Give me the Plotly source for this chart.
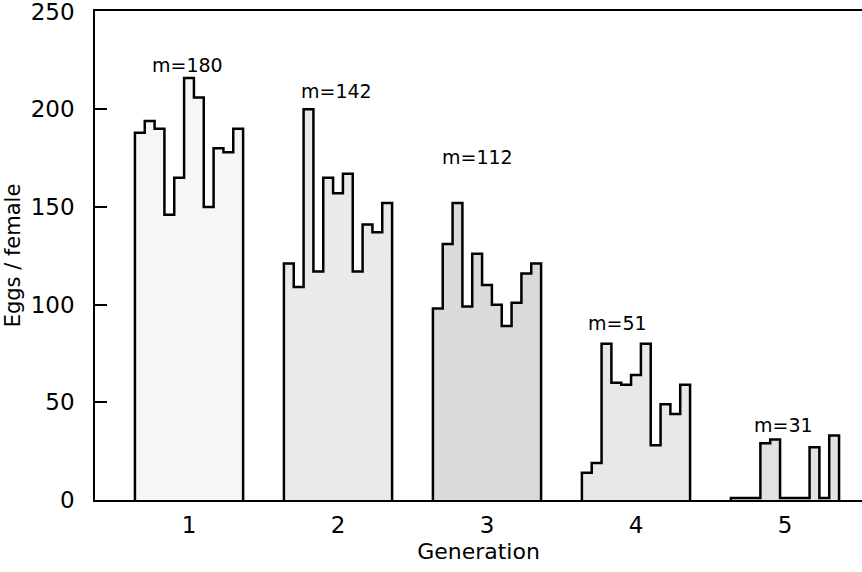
import numpy as np
import plotly.graph_objects as go

generations = [1, 2, 3, 4, 5]
tick_labels = ["1", "2", "3", "4", "5"]

gen1 = [188, 194, 190, 146, 165, 216, 206, 150, 180, 178, 190]
gen2 = [121, 109, 200, 117, 165, 157, 167, 117, 141, 137, 152]
gen3 = [98, 131, 152, 99, 126, 110, 100, 89, 101, 116, 121]
gen4 = [14, 19, 80, 60, 59, 64, 80, 28, 49, 44, 59]
gen5 = [1, 1, 1, 29, 31, 1, 1, 1, 27, 1, 33]
series = [gen1, gen2, gen3, gen4, gen5]

mean_labels = ["m=180", "m=142", "m=112", "m=51", "m=31"]
label_x = [0.987, 1.987, 2.933, 3.879, 4.987]
label_y = [222.9, 209.1, 175.4, 90.5, 38.3]

fills = ["#f6f6f6", "#eaeaea", "#dadada", "#e8e8e8", "#e2e2e2"]
bin_w = 0.066

fig = go.Figure()
for g, vals, col in zip(generations, series, fills):
    n = len(vals)
    edges = g + (np.arange(n + 1) - n / 2) * bin_w
    xs = [edges[0]]
    ys = [0]
    for i, v in enumerate(vals):
        xs += [edges[i], edges[i + 1]]
        ys += [v, v]
    xs.append(edges[-1])
    ys.append(0)
    fig.add_trace(go.Scatter(
        x=xs, y=ys, mode="lines", fill="toself", fillcolor=col,
        line=dict(color="black", width=2.5), hoverinfo="skip", showlegend=False,
    ))

for t, x, y in zip(mean_labels, label_x, label_y):
    fig.add_annotation(x=x, y=y, text=t, showarrow=False, xanchor="center",
                       yanchor="middle", font=dict(family="DejaVu Sans", size=19, color="black"))

fig.update_layout(
    width=862, height=572,
    margin=dict(l=95, r=0, t=11, b=72),
    paper_bgcolor="white", plot_bgcolor="white",
    font=dict(family="DejaVu Sans", color="black"),
    showlegend=False,
    xaxis=dict(
        range=[0.369, 5.517], tickmode="array", tickvals=generations, ticktext=tick_labels,
        showgrid=False, zeroline=False, showline=True, linecolor="black", linewidth=1.5,
        mirror=True, ticks="", tickfont=dict(size=23), ticklabelstandoff=4,
        title=dict(text="Generation", font=dict(size=22), standoff=6),
    ),
    yaxis=dict(
        range=[0, 250.3], tickmode="array", tickvals=[0, 50, 100, 150, 200, 250],
        ticktext=["0", "50", "100", "150", "200", "250"],
        showgrid=False, zeroline=False, showline=True, linecolor="black", linewidth=1.5,
        ticks="inside", ticklen=12, tickwidth=1.5, tickcolor="black",
        tickfont=dict(size=23), ticklabelstandoff=14, ticklabeloverflow="allow",
        title=dict(text="Eggs / female", font=dict(size=21), standoff=4),
    ),
)

fig.write_html("out.html")
